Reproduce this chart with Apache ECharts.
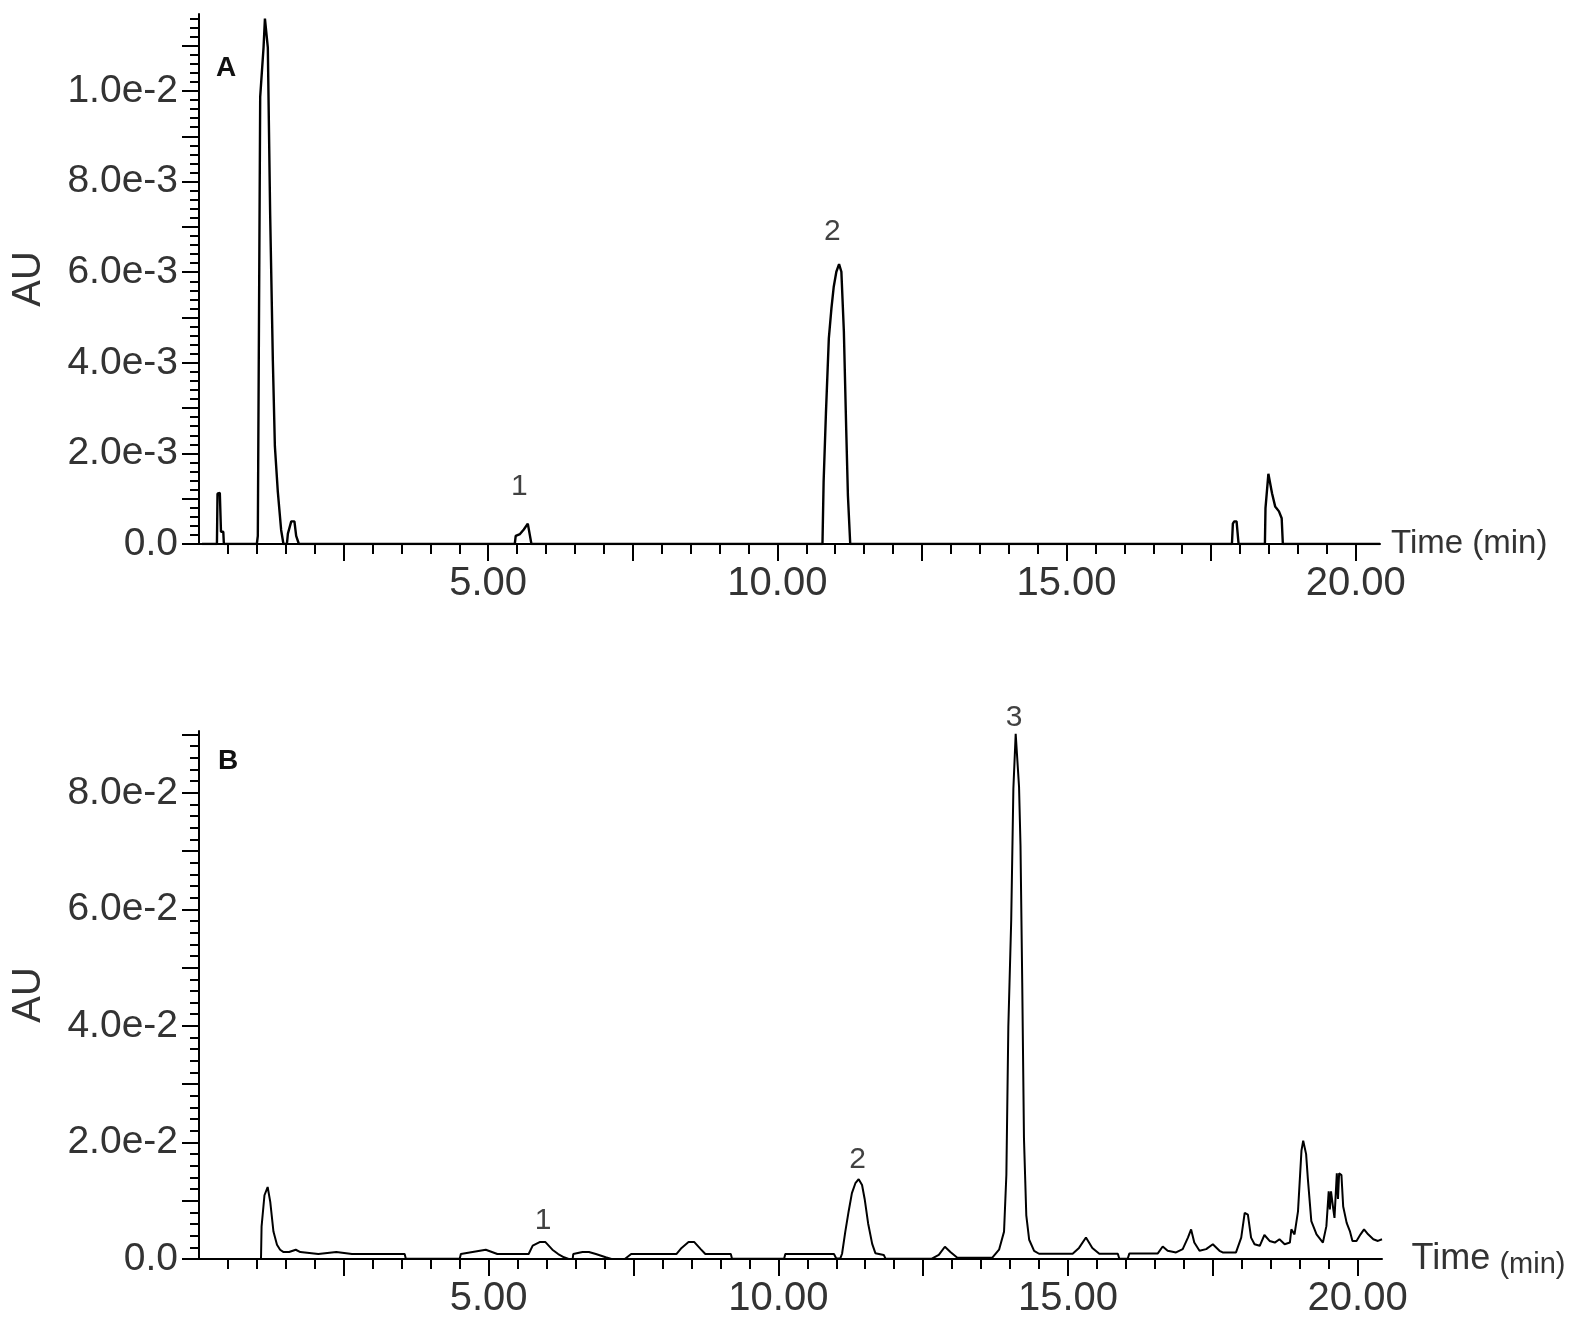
<!DOCTYPE html>
<html>
<head>
<meta charset="utf-8">
<script src="https://cdn.jsdelivr.net/npm/echarts@6/dist/echarts.min.js"></script>
<style>
html,body{margin:0;padding:0;background:#fff;}
#chart{width:1579px;height:1326px;}
</style>
</head>
<body>
<div id="chart"></div>
<script>
// ---- Data (time in min, absorbance in AU) ----
const traceA = [
  [0.05,0],[0.31,0],[0.32,0.00111],[0.36,0.00113],[0.38,0.00027],[0.42,0.00027],[0.43,0],
  [1.00,0],[1.017,0.00018],[1.05,0.00018],[1.058,0.00987],[1.116,0.01096],[1.14,0.0116],[1.162,0.0116],
  [1.19,0.01096],[1.23,0.0073],[1.277,0.00404],[1.312,0.00216],[1.363,0.00115],[1.42,0.00031],[1.46,0],
  [1.52,0],[1.537,0.00023],[1.595,0.0005],[1.65,0.0005],[1.68,0.00018],[1.727,0],
  [5.46,0],[5.476,0.00018],[5.55,0.00022],[5.616,0.00032],[5.685,0.00045],[5.71,0.00045],[5.748,0],
  [10.78,0],[10.80,0.00138],[10.84,0.00289],[10.89,0.00454],[10.935,0.0052],[10.975,0.00568],
  [11.02,0.00601],[11.067,0.00618],[11.107,0.00601],[11.15,0.00469],[11.19,0.00256],[11.22,0.00107],[11.26,0],
  [17.86,0],[17.876,0.00045],[17.90,0.0005],[17.94,0.0005],[17.975,0],
  [18.43,0],[18.44,0.00079],[18.49,0.00155],[18.52,0.00155],[18.553,0.00112],[18.607,0.00083],
  [18.673,0.00072],[18.72,0.00057],[18.74,0],[20.42,0]
];
const traceB = [
  [0.08,0],[1.07,0],[1.08,0.00555],[1.13,0.01094],[1.185,0.01235],[1.23,0.0098],[1.285,0.0047],
  [1.346,0.00244],[1.40,0.00159],[1.46,0.00119],[1.555,0.00119],[1.67,0.00159],[1.75,0.00119],
  [2.06,0.00085],[2.37,0.00119],[2.64,0.00085],[3.55,0.00085],[3.57,0.00005],[4.50,0.00005],
  [4.52,0.00085],[4.95,0.00159],[5.15,0.00085],[5.69,0.00085],[5.76,0.0023],[5.88,0.0029],
  [5.98,0.0029],[6.10,0.0016],[6.20,0.00085],[6.30,0.0003],[6.38,0],[6.45,0],[6.46,0.00085],
  [6.62,0.0012],[6.73,0.00119],[6.85,0.00085],[7.02,0.0003],[7.12,0],[7.35,0],[7.46,0.00085],
  [8.24,0.00085],[8.33,0.0019],[8.45,0.0029],[8.55,0.0029],[8.66,0.0017],[8.74,0.00085],
  [9.18,0.00085],[9.20,0.00005],[10.10,0.00005],[10.12,0.00085],[10.96,0.00085],[11.00,0.0001],
  [11.07,0.0001],[11.10,0.0009],[11.156,0.0047],[11.214,0.0082],[11.27,0.0113],[11.33,0.013],
  [11.387,0.0137],[11.445,0.0127],[11.49,0.0103],[11.55,0.0061],[11.62,0.0026],[11.675,0.001],
  [11.82,0.0007],[11.85,0.00005],[12.65,0.00005],[12.77,0.0007],[12.875,0.0021],[12.97,0.0012],
  [13.09,0.0002],[13.69,0.0002],[13.81,0.0016],[13.896,0.0047],[13.936,0.0144],[13.97,0.0398],
  [14.02,0.0582],[14.057,0.0807],[14.097,0.0901],[14.12,0.0901],[14.155,0.081],[14.18,0.071],
  [14.21,0.0474],[14.24,0.0207],[14.28,0.0075],[14.33,0.0033],[14.415,0.0014],[14.50,0.0009],
  [15.08,0.0009],[15.19,0.0019],[15.31,0.0037],[15.42,0.0019],[15.54,0.0009],[15.86,0.0009],
  [15.886,0.00005],[16.03,0.00005],[16.06,0.00096],[16.55,0.00096],[16.635,0.00214],[16.72,0.00141],
  [16.865,0.00113],[16.98,0.00169],[17.07,0.00367],[17.125,0.00508],[17.18,0.00282],[17.27,0.00141],
  [17.385,0.00169],[17.50,0.00254],[17.615,0.00141],[17.67,0.00113],[17.90,0.00113],[17.99,0.00367],
  [18.05,0.0079],[18.105,0.0076],[18.16,0.00367],[18.22,0.00254],[18.31,0.00226],[18.39,0.00412],
  [18.48,0.0031],[18.57,0.00282],[18.65,0.00338],[18.74,0.00254],[18.83,0.00282],[18.855,0.00508],
  [18.91,0.00423],[18.97,0.00818],[19.03,0.0186],[19.06,0.0203],[19.11,0.018],[19.14,0.0138],
  [19.20,0.0065],[19.29,0.00423],[19.40,0.00282],[19.46,0.00564],[19.50,0.0116],[19.52,0.0085],
  [19.54,0.0116],[19.58,0.00846],[19.60,0.00705],[19.64,0.0147],[19.66,0.0103],[19.68,0.0147],
  [19.72,0.0144],[19.75,0.00902],[19.81,0.0062],[19.865,0.0048],[19.91,0.0031],[19.98,0.0031],
  [20.05,0.00423],[20.11,0.00508],[20.18,0.00423],[20.27,0.00338],[20.35,0.0031],[20.42,0.00338]
];
// peak number annotations [time, AU, text]
const peakLabelsA = [[5.54,0.00126,'1'],[10.95,0.0069,'2']];
const peakLabelsB = [[5.94,0.00665,'1'],[11.37,0.0171,'2'],[14.07,0.0928,'3']];

// axis ticks / labels
const xLabelValues = [5, 10, 15, 20];
const xMajorTicks = [2.5, 5, 7.5, 10, 12.5, 15, 17.5, 20];
const xMinorTicks = [0.5,1,1.5,2,3,3.5,4,4.5,5.5,6,6.5,7,8,8.5,9,9.5,10.5,11,11.5,12,13,13.5,14,14.5,15.5,16,16.5,17,18,18.5,19,19.5];
const yLabelsA = [0, 0.002, 0.004, 0.006, 0.008, 0.01];
const yTicksA = [0, 0.001, 0.002, 0.003, 0.004, 0.005, 0.006, 0.007, 0.008, 0.009, 0.01, 0.011];
const yLabelsB = [0, 0.02, 0.04, 0.06, 0.08];
const yTicksB = [0, 0.01, 0.02, 0.03, 0.04, 0.05, 0.06, 0.07, 0.08, 0.09];
const yMaxA = 0.0117, yMaxB = 0.0906, xMax = 20.42;

function minorList(step, max, skip) {
  const out = [];
  for (let i = 1; i * step <= max + 1e-12; i++) {
    if (i % skip !== 0) out.push(+(i * step).toPrecision(6));
  }
  return out;
}
const yMinorA = minorList(0.0002, yMaxA, 5);
const yMinorB = minorList(0.002, yMaxB, 5);

const FONT = "'Liberation Sans', Arial, sans-serif";
const TXT = '#333';

function xMain(grid, name, gap) {
  return {
    type: 'value', gridIndex: grid, min: 0, max: xMax, position: 'bottom',
    axisLine: { show: true, onZero: false, lineStyle: { color: '#000', width: 2 } },
    axisTick: { show: true, customValues: xMajorTicks, length: 17, lineStyle: { color: '#000', width: 2 } },
    axisLabel: { show: true, customValues: xLabelValues, margin: 20, color: TXT, fontSize: 40, fontFamily: FONT,
      formatter: v => v.toFixed(2) },
    splitLine: { show: false },
    name: name, nameLocation: 'end', nameGap: gap,
    nameTextStyle: { color: TXT, fontSize: 33, fontFamily: FONT, verticalAlign: 'middle',
      rich: { a: { fontSize: 36, fontFamily: FONT, color: TXT }, b: { fontSize: 29, fontFamily: FONT, color: TXT, padding: [12, 0, 0, 0] } } }
  };
}
function xMinor(grid) {
  return {
    type: 'value', gridIndex: grid, min: 0, max: xMax, position: 'bottom',
    axisLine: { show: false, onZero: false },
    axisTick: { show: true, customValues: xMinorTicks, length: 10, lineStyle: { color: '#000', width: 2 } },
    axisLabel: { show: false }, splitLine: { show: false }
  };
}
function yMain(grid, max, ticks, labels) {
  return {
    type: 'value', gridIndex: grid, min: 0, max: max, position: 'left',
    axisLine: { show: true, onZero: false, lineStyle: { color: '#000', width: 2 } },
    axisTick: { show: true, customValues: ticks, length: 17, lineStyle: { color: '#000', width: 2 } },
    axisLabel: { show: true, customValues: labels, margin: 21, color: TXT, fontSize: 39, fontFamily: FONT,
      formatter: v => v === 0 ? '0.0' : v.toExponential(1) },
    splitLine: { show: false },
    name: 'AU', nameLocation: 'middle', nameGap: 150,
    nameTextStyle: { color: TXT, fontSize: 40, fontFamily: FONT }
  };
}
function yMinor(grid, max, ticks) {
  return {
    type: 'value', gridIndex: grid, min: 0, max: max, position: 'left', offset: 0,
    axisLine: { show: false, onZero: false },
    axisTick: { show: true, customValues: ticks, length: 9, lineStyle: { color: '#000', width: 2 } },
    axisLabel: { show: false }, splitLine: { show: false }
  };
}
function labelSeries(xi, yi, data) {
  return {
    type: 'scatter', xAxisIndex: xi, yAxisIndex: yi, data: data, clip: false,
    symbolSize: 1, itemStyle: { color: 'rgba(0,0,0,0)' }, silent: true,
    label: { show: true, position: 'inside', formatter: p => p.value[2], color: '#111', fontSize: 30, fontFamily: FONT }
  };
}

const chart = echarts.init(document.getElementById('chart'), null, { renderer: 'canvas' });
chart.setOption({
  backgroundColor: '#fff',
  animation: false,
  grid: [
    { left: 199, top: 14, width: 1181, height: 530 },
    { left: 199, top: 731, width: 1183, height: 528 }
  ],
  xAxis: [ xMain(0, 'Time (min)', 11), xMinor(0), xMain(1, '{a|Time} {b|(min)}', 4), xMinor(1) ],
  yAxis: [ yMain(0, yMaxA, yTicksA, yLabelsA), yMinor(0, yMaxA, yMinorA),
           yMain(1, yMaxB, yTicksB, yLabelsB), yMinor(1, yMaxB, yMinorB) ],
  series: [
    { type: 'line', xAxisIndex: 0, yAxisIndex: 0, data: traceA, showSymbol: false, clip: true,
      lineStyle: { color: '#000', width: 2.4 } },
    { type: 'line', xAxisIndex: 2, yAxisIndex: 2, data: traceB, showSymbol: false, clip: true,
      lineStyle: { color: '#000', width: 2 } },
    labelSeries(0, 0, peakLabelsA),
    labelSeries(2, 2, peakLabelsB)
  ],
  graphic: [
    { type: 'text', left: 216, top: 54, style: { text: 'A', fontSize: 28, fontWeight: 'bold', fontFamily: FONT, fill: '#111' } },
    { type: 'text', left: 218, top: 747, style: { text: 'B', fontSize: 28, fontWeight: 'bold', fontFamily: FONT, fill: '#111' } }
  ]
});
</script>
</body>
</html>
